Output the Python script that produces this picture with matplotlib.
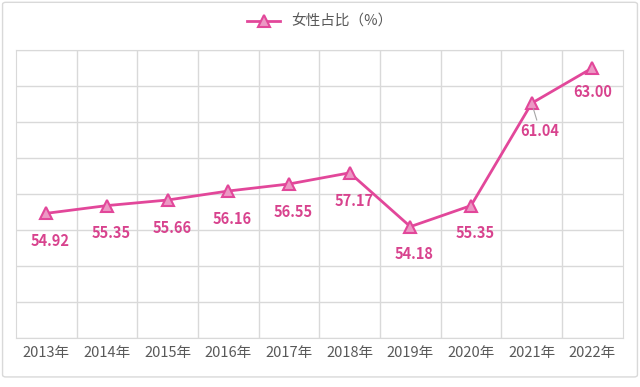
import matplotlib.pyplot as plt
from matplotlib.patches import FancyBboxPatch

plt.rcParams['font.family'] = ['Noto Sans CJK SC', 'DejaVu Sans']

# === data ===
years = ["2013年", "2014年", "2015年", "2016年", "2017年",
         "2018年", "2019年", "2020年", "2021年", "2022年"]
female_share = [54.92, 55.35, 55.66, 56.16, 56.55, 57.17, 54.18, 55.35, 61.04, 63.00]

line_color = "#E2479A"
label_color = "#D8438E"

fig = plt.figure(figsize=(6.4, 3.87), dpi=100)
ax = fig.add_axes([0.025, 0.127, 0.948, 0.744])

# outer border
fig.patches.append(FancyBboxPatch((0.004, 0.026), 0.992, 0.968,
                                  boxstyle="round,pad=0,rounding_size=0.005",
                                  transform=fig.transFigure, fill=False,
                                  edgecolor="#D9D9D9", linewidth=1.0))

x = list(range(len(years)))
ax.plot(x, female_share, color=line_color, linewidth=2,
        marker="^", markersize=9, markerfacecolor="#EC98C4",
        markeredgecolor=line_color, markeredgewidth=1.5,
        label="女性占比（%）", zorder=3)

# === value labels ===
lbl = dict(textcoords="offset points", ha="center", va="center",
           color=label_color, fontsize=10.5, fontweight="bold")
for i, v in enumerate(female_share):
    if i == 8:
        ax.annotate(f"{v:.2f}", (i, v), xytext=(6, -20),
                    arrowprops=dict(arrowstyle="-", color="#A6A6A6", lw=0.8,
                                    shrinkA=0, shrinkB=4), **lbl)
    elif i == 9:
        ax.annotate(f"{v:.2f}", (i, v), xytext=(0, -17), **lbl)
    else:
        ax.annotate(f"{v:.2f}", (i, v), xytext=(3, -20), **lbl)

# === axes ===
ax.set_xlim(-0.5, len(years) - 0.5)
ax.set_ylim(48, 64)
ax.set_yticks(range(48, 65, 2))
ax.set_yticklabels([])
ax.set_xticks(x)
ax.set_xticklabels(years, color="#595959", fontsize=10.5)
ax.set_xticks([i + 0.5 for i in x[:-1]], minor=True)
ax.tick_params(axis="both", which="both", length=0)
ax.tick_params(axis="x", pad=6)
ax.grid(axis="y", color="#D9D9D9", linewidth=1)
ax.grid(axis="x", which="minor", color="#D9D9D9", linewidth=1)
for s in ax.spines.values():
    s.set_color("#D9D9D9")
ax.set_axisbelow(True)

fig.legend(loc="upper center", bbox_to_anchor=(0.5, 0.995), frameon=False,
           fontsize=10.5, labelcolor="#595959", handlelength=2.2)

plt.savefig("out.png", dpi=100)
